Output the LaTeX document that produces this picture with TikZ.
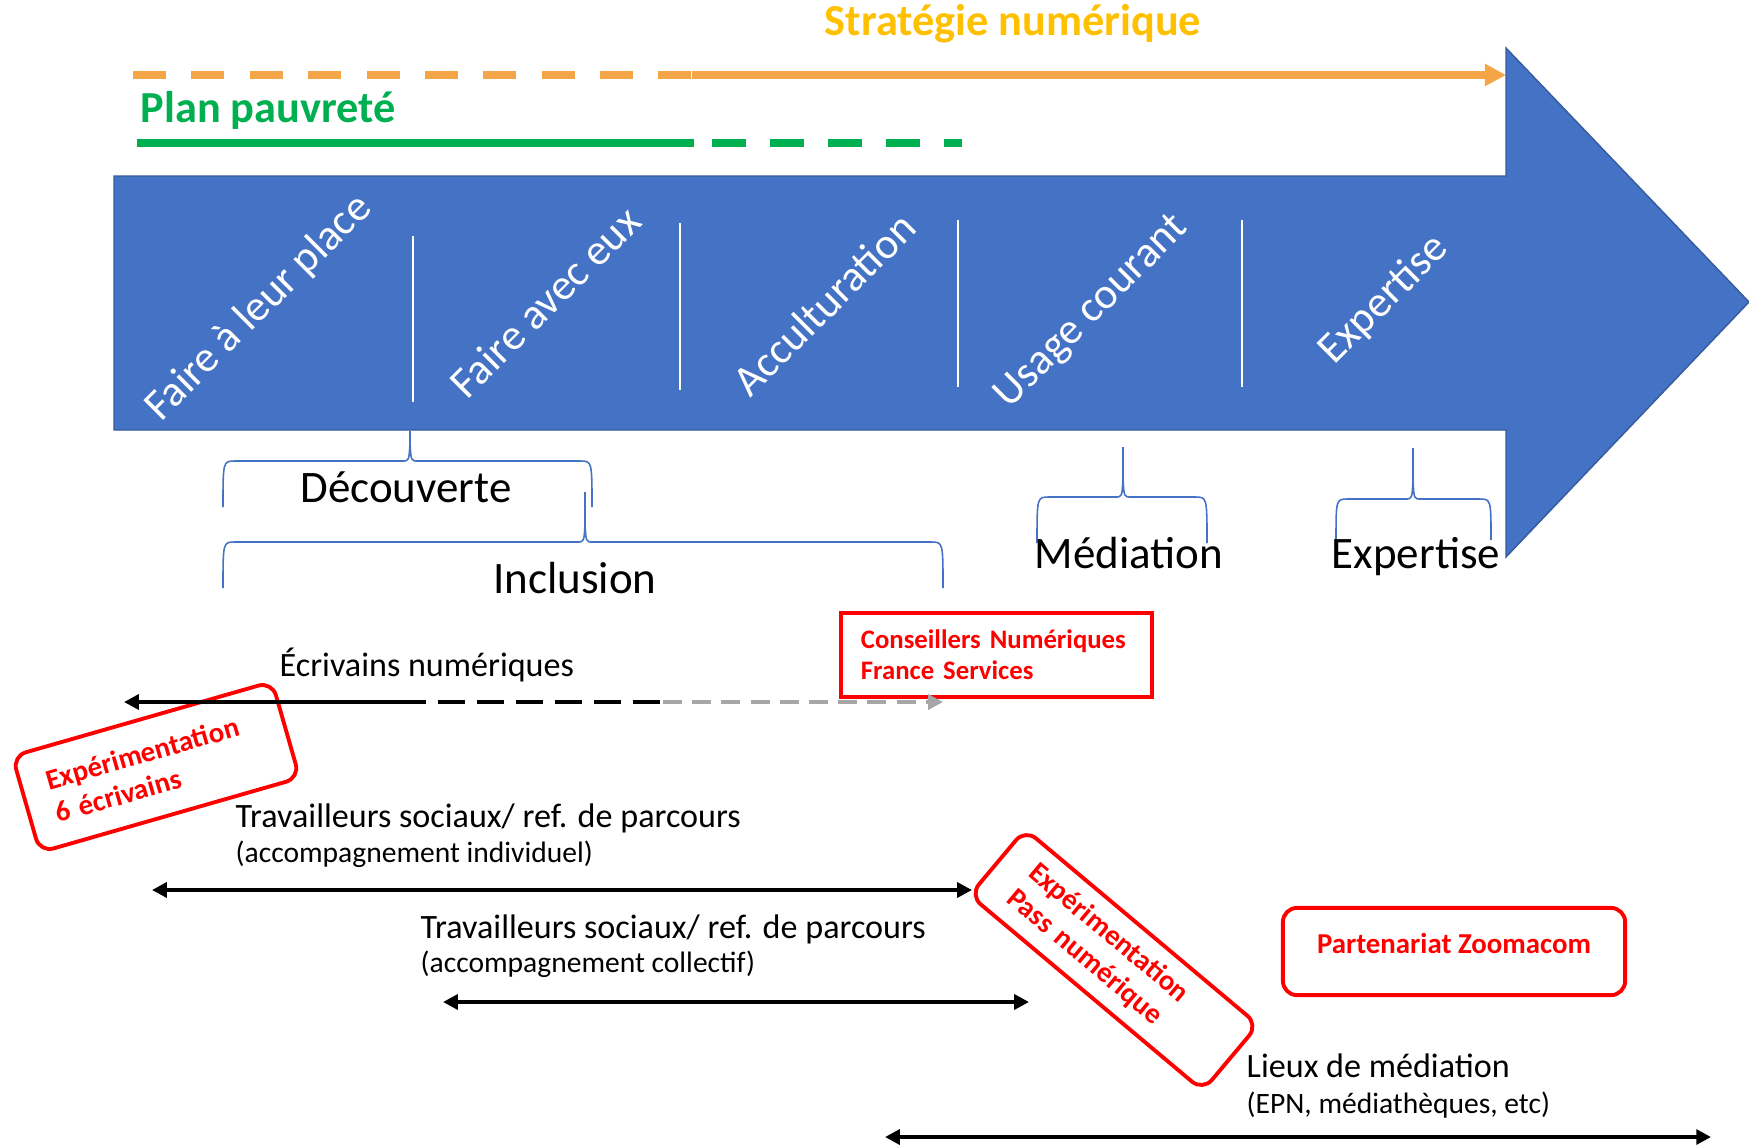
\documentclass[tikz,border=0pt]{standalone}
\usepackage{fontspec}
\setmainfont{Carlito}
\usetikzlibrary{arrows.meta}

\definecolor{arrowblue}{HTML}{4472C4}
\definecolor{stratorange}{HTML}{F4A548}
\definecolor{stratgold}{HTML}{FFC000}
\definecolor{plangreen}{HTML}{00B050}
\definecolor{greydash}{HTML}{A6A6A6}

\begin{document}
\begin{tikzpicture}[x=0.01cm,y=-0.01cm,>={Triangle[length=4.2pt,width=4.2pt]},
  title/.style={font=\fontsize{12.6}{15}\selectfont\bfseries,inner sep=0pt},
  stage/.style={text=white,rotate=45,font=\fontsize{12.4}{14}\selectfont},
  phase/.style={font=\fontsize{12.8}{15}\selectfont,anchor=base},
  accolade/.style={draw=arrowblue,line width=0.45pt},
  flow/.style={font=\fontsize{9.7}{12}\selectfont,anchor=base west,inner sep=0pt},
  flowsub/.style={font=\fontsize{8.4}{10}\selectfont,anchor=base west,inner sep=0pt},
  redbox/.style={draw=red,line width=1.1pt,text=red,font=\fontsize{8.2}{9.6}\selectfont\bfseries},
  conn/.style={line width=1.15pt}]
  \useasboundingbox (0,0) rectangle (1749,1145);

  % strategie numerique
  \node[title,text=stratgold,anchor=base] (strat) at (1013,35) {Stratégie numérique};
  \coordinate (strat-a) at (133,75);
  \coordinate (strat-b) at (692,75);
  \coordinate (strat-c) at (1506,75);
  \draw[stratorange,line width=2.1pt,dash pattern=on 9.4pt off 7.2pt] (strat-a) -- (strat-b);
  \draw[stratorange,line width=2.1pt,-{Triangle[length=6pt,width=6pt]}] (strat-b) -- (strat-c);

  % plan pauvrete
  \node[title,text=plangreen,anchor=base west] (plan) at (140,122) {Plan pauvreté};
  \coordinate (plan-a) at (137,143);
  \coordinate (plan-b) at (694,143);
  \coordinate (plan-c) at (712,143);
  \coordinate (plan-d) at (962,143);
  \draw[plangreen,line width=2pt] (plan-a) -- (plan-b);
  \draw[plangreen,line width=2pt,dash pattern=on 9.7pt off 6.8pt] (plan-c) -- (plan-d);

  % big arrow
  \fill[arrowblue,draw=arrowblue!80!black,line width=0.4pt] (114,176) -- (1506,176) -- (1506,48) -- (1749,302) -- (1506,557) -- (1506,430) -- (114,430) -- cycle;
  \foreach \x/\ya/\yb in {413/236/402,680/223/390,958/220/387,1242/220/387}
    \draw[white,line width=0.4pt] (\x,\ya) -- (\x,\yb);
  \foreach \x/\y/\txt [count=\i] in {259/308/Faire à leur place,545/302/Faire avec eux,824/304/Acculturation,1092/312/Usage courant,1384/300/Expertise}
    \node[stage] (stage\i) at (\x,\y) {\txt};

  % accolades
  \foreach \xl/\xr/\xt/\yh/\yt/\ye in {223/592/410/461/431/507,223/943/585/542/492/588,1037/1207/1123/497/447/543,1336/1491/1413/499/448/540}
    \draw[accolade] (\xl,\ye) .. controls (\xl,\yh) .. (\xl+12,\yh) -- (\xt-8,\yh) .. controls (\xt-1,\yh) .. (\xt,\yh-18) -- (\xt,\yt)
      -- (\xt,\yh-18) .. controls (\xt+1,\yh) .. (\xt+8,\yh) -- (\xr-12,\yh) .. controls (\xr,\yh) .. (\xr,\ye);
  \node[phase] (decouverte) at (406,502) {Découverte};
  \node[phase] (inclusion) at (575,593) {Inclusion};
  \node[phase] (mediation) at (1129,568) {Médiation};
  \node[phase] (expertise) at (1416,568) {Expertise};

  % red boxes
  \node[redbox,font=\fontsize{7.6}{8.8}\selectfont\bfseries,align=left,text width=2.71cm,inner xsep=0.2cm,inner ysep=0pt,minimum height=0.84cm] (cnfs) at (996.5,655) {Conseillers Numériques\\France Services};
  \node[redbox,rounded corners=4pt,minimum width=3.42cm,text height=13.1pt,text depth=11.7pt,inner ysep=0pt] (zoomacom) at (1454,951.5) {Partenariat Zoomacom};
  \node[redbox,rounded corners=4pt,rotate=16,align=left,text width=2.18cm,inner xsep=0.26cm,minimum height=1cm] (exp-ecr) at (156,767) {Expérimentation\\6 écrivains};
  \node[redbox,rounded corners=4pt,rotate=-40,align=left,text width=2.42cm,inner xsep=0.31cm,minimum height=0.86cm] (exp-pass) at (1114,960) {Expérimentation\\Pass numérique};

  % ecrivains numeriques
  \node[flow] (ecr) at (279,676) {Écrivains numériques};
  \coordinate (ecr-a) at (124,702);
  \coordinate (ecr-b) at (426,702);
  \coordinate (ecr-c) at (663,702);
  \coordinate (ecr-d) at (943,702);
  \draw[conn,<-] (ecr-a) -- (ecr-b);
  \draw[conn,dash pattern=on 7.7pt off 3.4pt,dash phase=7.7pt] (ecr-b) -- (ecr-c);
  \draw[conn,greydash,->,dash pattern=on 5.4pt off 2.9pt] (ecr-c) -- (ecr-d);

  % travailleurs sociaux
  \node[flow] (ts-ind) at (235,827) {Travailleurs sociaux/ ref. de parcours};
  \node[flowsub] (ts-ind-sub) at (235,862) {(accompagnement individuel)};
  \coordinate (ind-a) at (152,890);
  \coordinate (ind-b) at (972,890);
  \draw[conn,<->] (ind-a) -- (ind-b);

  \node[flow] (ts-col) at (420,938) {Travailleurs sociaux/ ref. de parcours};
  \node[flowsub] (ts-col-sub) at (420,972) {(accompagnement collectif)};
  \coordinate (col-a) at (443,1002);
  \coordinate (col-b) at (1029,1002);
  \draw[conn,<->] (col-a) -- (col-b);

  % lieux de mediation
  \node[flow] (lieux) at (1246,1077) {Lieux de médiation};
  \node[flowsub] (lieux-sub) at (1246,1113) {(EPN, médiathèques, etc)};
  \coordinate (lieux-a) at (885,1137);
  \coordinate (lieux-b) at (1711,1137);
  \draw[conn,<->] (lieux-a) -- (lieux-b);
\end{tikzpicture}
\end{document}
